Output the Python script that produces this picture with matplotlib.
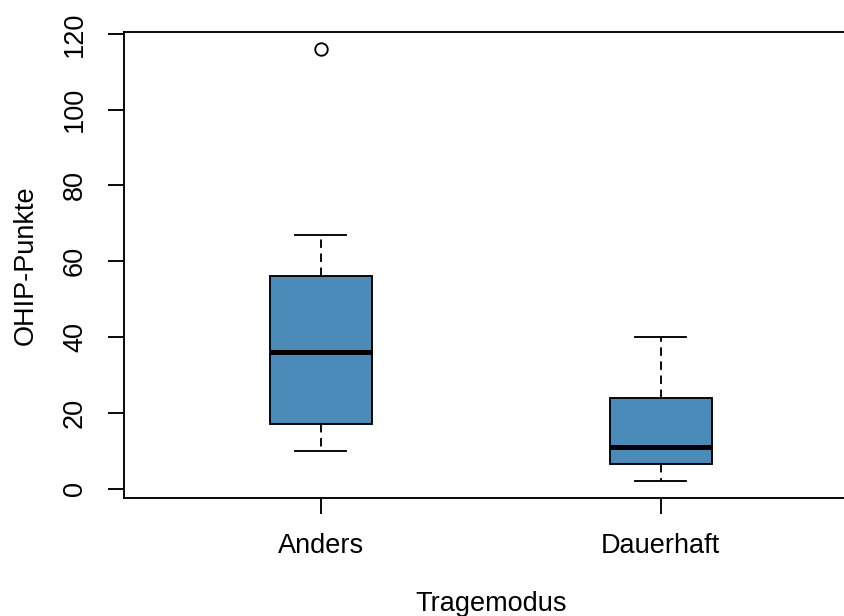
import matplotlib.pyplot as plt

plt.rcParams['font.family'] = ['Liberation Sans', 'DejaVu Sans']

# five-number summaries per group (whiskers, quartiles, median) and outliers
groups = ["Anders", "Dauerhaft"]
whisker_low = [10, 2]
q1 = [17, 6.5]
median = [36, 11]
q3 = [56, 24]
whisker_high = [67, 40]
outliers = [[116], []]

box_color = "#4A8BBA"
lw = 1.35

stats = []
for i, name in enumerate(groups):
    stats.append({
        "label": name,
        "whislo": whisker_low[i],
        "q1": q1[i],
        "med": median[i],
        "q3": q3[i],
        "whishi": whisker_high[i],
        "fliers": outliers[i],
    })

fig = plt.figure(figsize=(8.45, 6.16), dpi=100)
ax = fig.add_axes([0.1462, 0.1916, 0.869, 0.7564])

ax.bxp(stats, positions=[1, 2], widths=0.3, patch_artist=True,
       boxprops=dict(facecolor=box_color, edgecolor="black", linewidth=lw),
       medianprops=dict(color="black", linewidth=3.6, solid_capstyle="butt"),
       whiskerprops=dict(color="black", linewidth=lw, linestyle=(0, (4.5, 3))),
       capprops=dict(color="black", linewidth=lw),
       capwidths=0.15,
       flierprops=dict(marker="o", markerfacecolor="none", markeredgecolor="black",
                       markersize=9, markeredgewidth=lw))

ax.set_xlim(0.42, 2.58)
ax.set_ylim(-2.5, 120.5)
ax.set_yticks([0, 20, 40, 60, 80, 100, 120])
ax.set_xticks([1, 2])
ax.set_xticklabels(groups)

for side in ["left", "bottom", "top"]:
    ax.spines[side].set_linewidth(lw)
ax.spines["right"].set_visible(False)

ax.tick_params(axis="both", labelsize=19.5, length=11.5, width=lw)
ax.tick_params(axis="y", pad=14)
ax.tick_params(axis="x", pad=14)
for lbl in ax.get_yticklabels():
    lbl.set_rotation(90)
    lbl.set_va("center")

ax.set_xlabel("Tragemodus", fontsize=19.5, labelpad=23)
ax.set_ylabel("OHIP-Punkte", fontsize=19.5, labelpad=17)

fig.savefig("out.png", dpi=100)
